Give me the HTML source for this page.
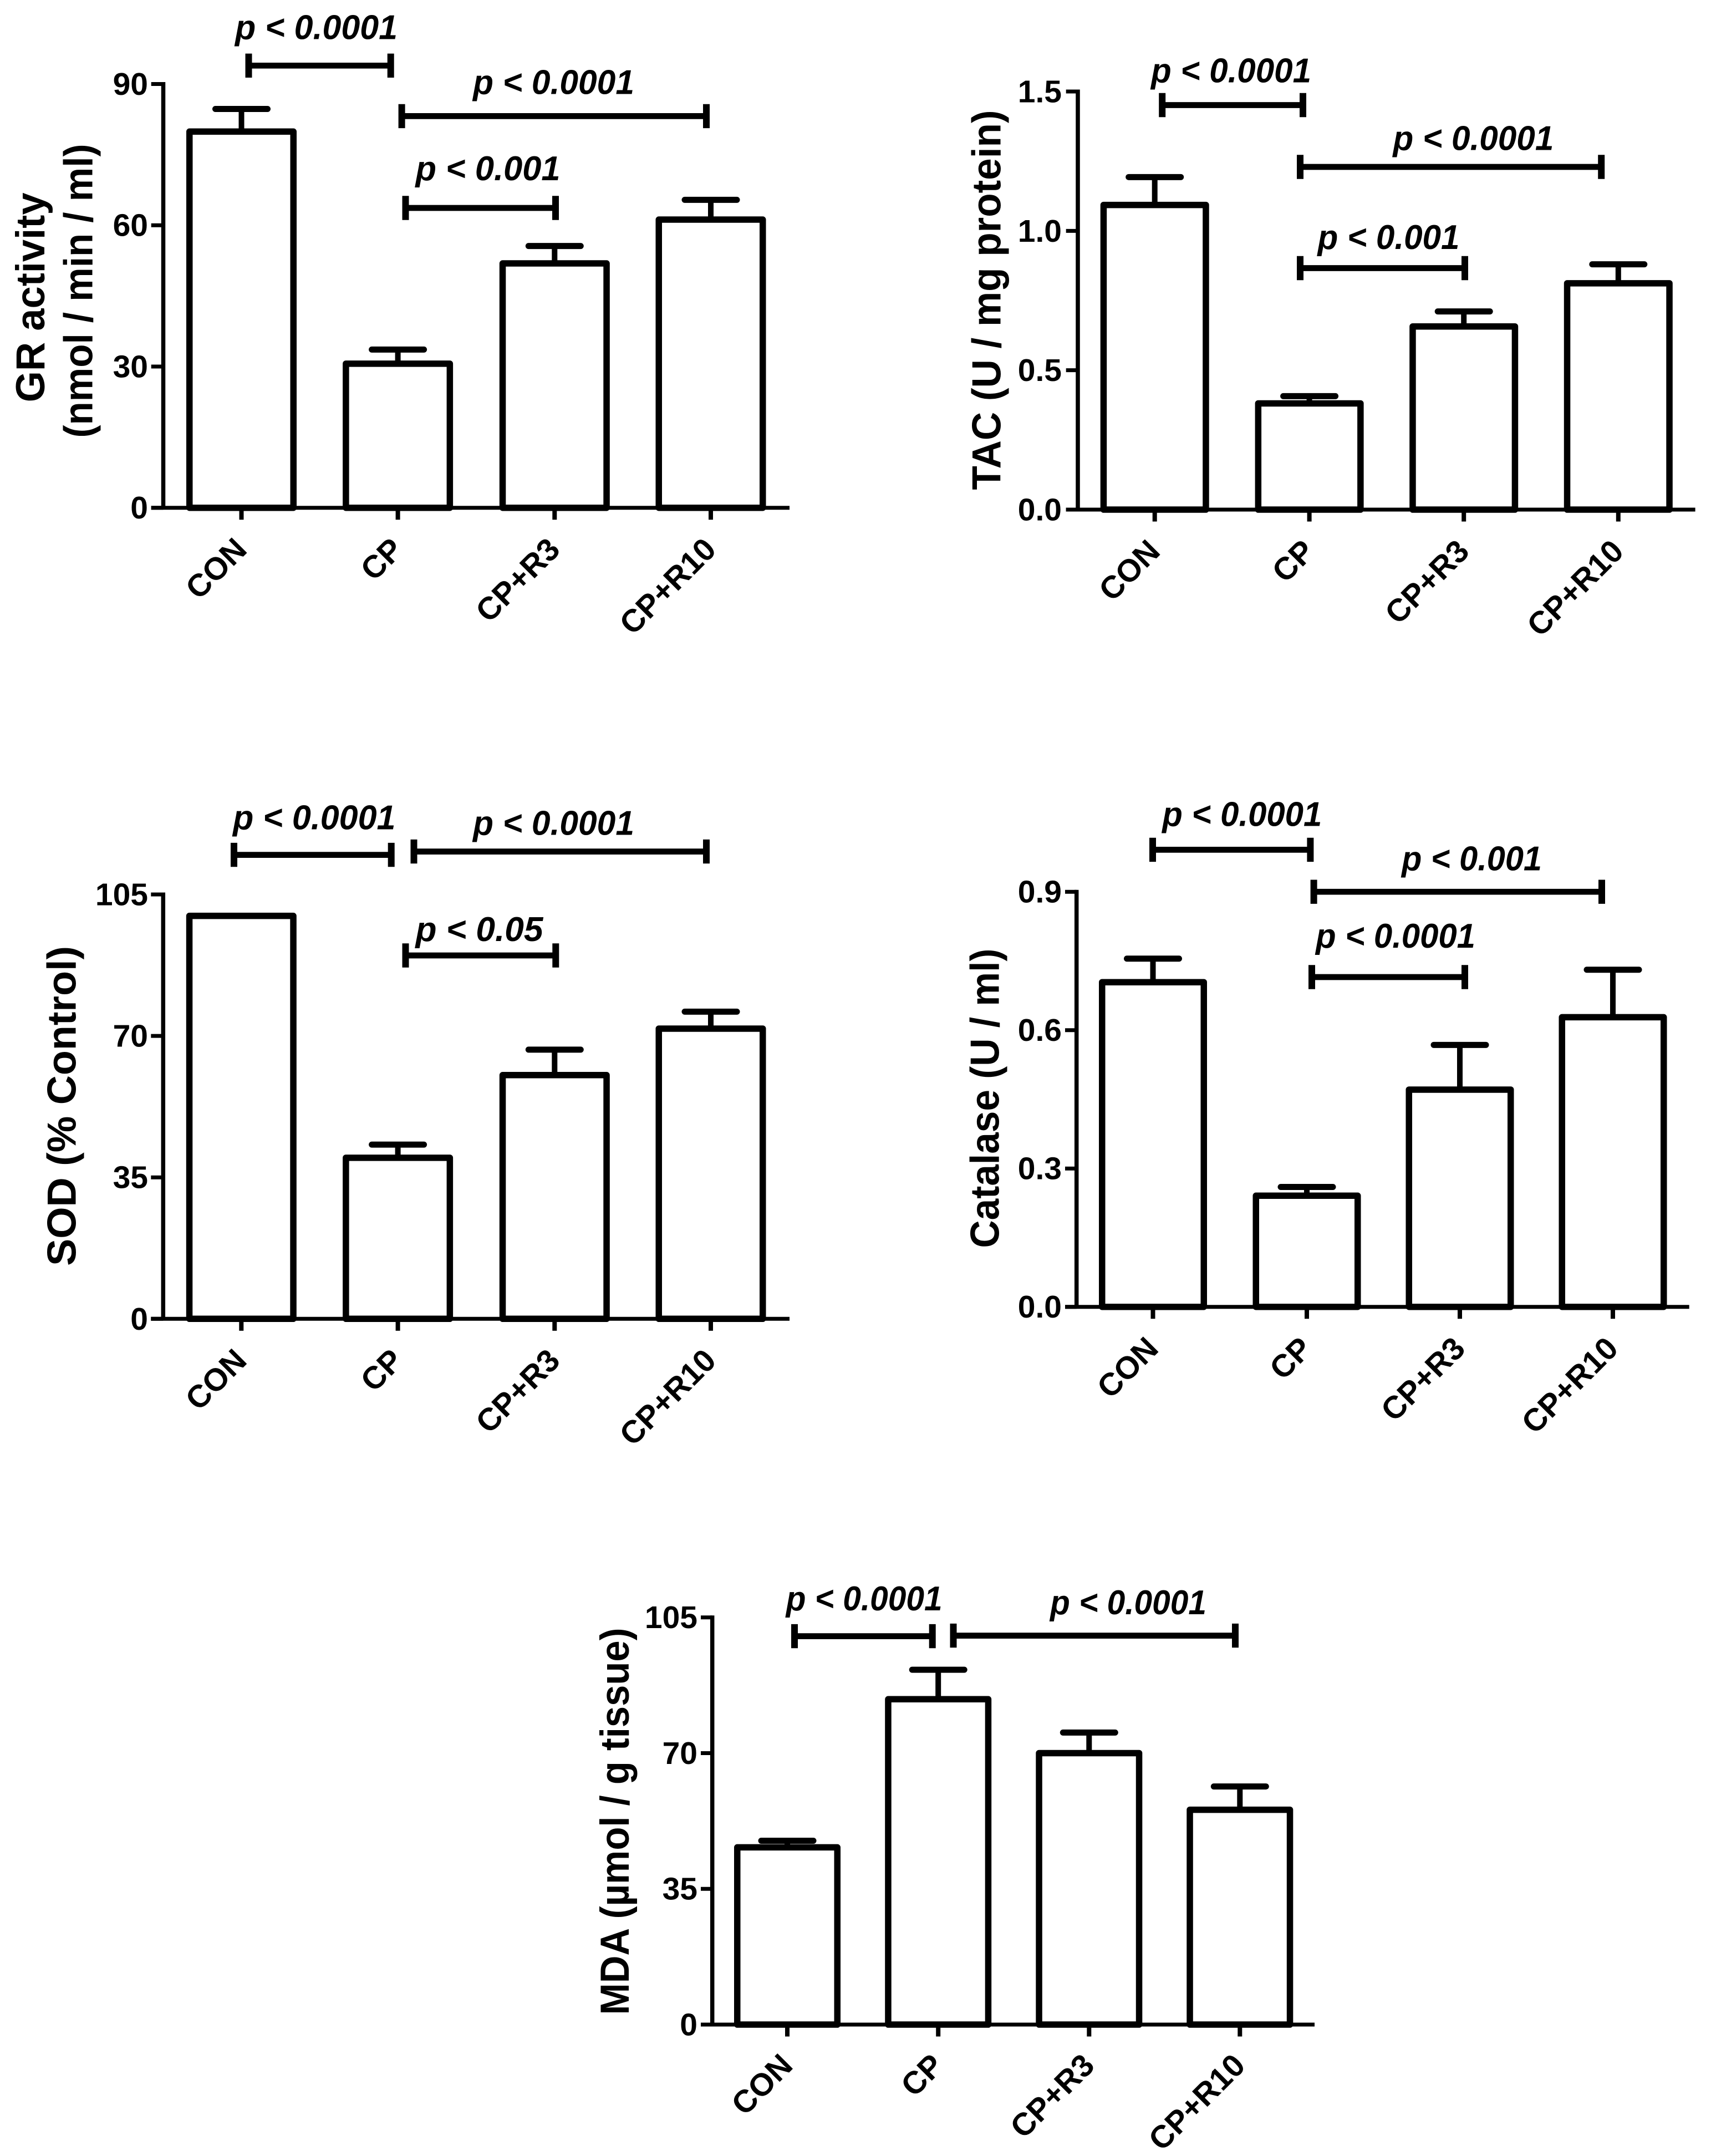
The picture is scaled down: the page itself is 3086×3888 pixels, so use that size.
<!DOCTYPE html>
<html lang="en">
<head>
<meta charset="utf-8">
<title>Antioxidant markers bar charts</title>
<style>
html,body{margin:0;padding:0;background:#fff;}
#figure{display:block;width:3086px;height:3888px;background:#fff;}
text{font-family:"Liberation Sans",Arial,sans-serif;font-weight:700;fill:#000;}
</style>
</head>
<body>
<svg id="figure" xmlns="http://www.w3.org/2000/svg" width="3086" height="3888" viewBox="0 0 3086 3888"></svg>
<script>
// ---- chart data ----
const categories = ['CON', 'CP', 'CP+R3', 'CP+R10'];

const grValues = [79.9, 30.6, 51.9, 61.2];
const grErrorTops = [84.7, 33.6, 55.6, 65.4];
const grTicks = [0, 30, 60, 90];
const grTickLabels = ['0', '30', '60', '90'];

const tacValues = [1.093, 0.381, 0.657, 0.812];
const tacErrorTops = [1.193, 0.407, 0.711, 0.88];
const tacTicks = [0, 0.5, 1, 1.5];
const tacTickLabels = ['0.0', '0.5', '1.0', '1.5'];

const sodValues = [99.7, 39.85, 60.3, 71.8];
const sodErrorTops = [99.7, 43.1, 66.6, 76];
const sodTicks = [0, 35, 70, 105];
const sodTickLabels = ['0', '35', '70', '105'];

const catValues = [0.704, 0.241, 0.471, 0.628];
const catErrorTops = [0.755, 0.26, 0.568, 0.731];
const catTicks = [0, 0.3, 0.6, 0.9];
const catTickLabels = ['0.0', '0.3', '0.6', '0.9'];

const mdaValues = [45.7, 83.9, 70, 55.4];
const mdaErrorTops = [47.4, 91.5, 75.3, 61.4];
const mdaTicks = [0, 35, 70, 105];
const mdaTickLabels = ['0', '35', '70', '105'];

// ---- panel layout ----
const panels = [
  { id:'gr', values:grValues, errs:grErrorTops, ticks:grTicks, tickLabels:grTickLabels, yMax:90,
    axisX:294.5, top:151.5, base:915.7, left:272.7, right:1424, tickX:[435.5,717.6,1000.3,1282], barW:199, labelRight:267, xLabelDy:78.5,
    titles:[{t:'GR activity',x:80,cy:536.4,len:378},{t:'(nmol / min / ml)',x:166.7,cy:524.5,len:530}],
    brackets:[
      {x1:448.5,x2:704.7,y:118.3,label:'p < 0.0001',lx:424,lw:293,ly:70.5},
      {x1:724.6,x2:1274,y:209.4,label:'p < 0.0001',lx:853,lw:291,ly:169.5},
      {x1:731.5,x2:1002,y:375,label:'p < 0.001',lx:749.5,lw:261,ly:325}]},
  { id:'tac', values:tacValues, errs:tacErrorTops, ticks:tacTicks, tickLabels:tacTickLabels, yMax:1.5,
    axisX:1944, top:165, base:919, left:1922.7, right:3057.6, tickX:[2082.7,2361.6,2640.2,2918.8], barW:196, labelRight:1915, xLabelDy:78.5,
    titles:[{t:'TAC (U / mg protein)',x:1804.7,cy:541,len:685}],
    brackets:[
      {x1:2096.2,x2:2350,y:189.5,label:'p < 0.0001',lx:2076,lw:289,ly:148.7},
      {x1:2345,x2:2888.2,y:301,label:'p < 0.0001',lx:2512.4,lw:290,ly:270.5},
      {x1:2345,x2:2642,y:483.5,label:'p < 0.001',lx:2376.5,lw:256,ly:449}]},
  { id:'sod', values:sodValues, errs:sodErrorTops, ticks:sodTicks, tickLabels:sodTickLabels, yMax:105,
    axisX:294.3, top:1613, base:2378.3, left:272.3, right:1424, tickX:[435.3,717.6,1000.3,1282], barW:199, labelRight:267, xLabelDy:78.5,
    titles:[{t:'SOD (% Control)',x:136.5,cy:1994.4,len:577}],
    brackets:[
      {x1:422,x2:705.7,y:1541.6,label:'p < 0.0001',lx:420,lw:293.5,ly:1495.7},
      {x1:746.5,x2:1274,y:1535.6,label:'p < 0.0001',lx:853,lw:291,ly:1505.3},
      {x1:731.5,x2:1002.3,y:1723,label:'p < 0.05',lx:749.5,lw:230,ly:1697}]},
  { id:'catalase', values:catValues, errs:catErrorTops, ticks:catTicks, tickLabels:catTickLabels, yMax:0.9,
    axisX:1941.7, top:1608.2, base:2356.7, left:1921, right:3046.7, tickX:[2079.5,2357,2633,2909], barW:195, labelRight:1915, xLabelDy:78.5,
    titles:[{t:'Catalase (U / ml)',x:1801.7,cy:1980.5,len:540}],
    brackets:[
      {x1:2079,x2:2363.4,y:1532.4,label:'p < 0.0001',lx:2096.3,lw:288,ly:1489.4},
      {x1:2369.6,x2:2889,y:1608.2,label:'p < 0.001',lx:2528,lw:253,ly:1569.5},
      {x1:2366,x2:2642,y:1762,label:'p < 0.0001',lx:2373,lw:288,ly:1709}]},
  { id:'mda', values:mdaValues, errs:mdaErrorTops, ticks:mdaTicks, tickLabels:mdaTickLabels, yMax:105,
    axisX:1284.7, top:2916.7, base:3651, left:1264, right:2371, tickX:[1420,1692.2,1964.3,2236.3], barW:192, labelRight:1258, xLabelDy:77,
    titles:[{t:'MDA (\u00B5mol / g tissue)',x:1134.1,cy:3284.5,len:698}],
    brackets:[
      {x1:1433,x2:1681.7,y:2950.6,label:'p < 0.0001',lx:1417.6,lw:282,ly:2904.2},
      {x1:1719.5,x2:2228,y:2949.6,label:'p < 0.0001',lx:1894,lw:282,ly:2911}]}
];

const SVG_NS = 'http://www.w3.org/2000/svg';
const figure = document.getElementById('figure');

function mk(tag, attrs, parent) {
  const el = document.createElementNS(SVG_NS, tag);
  for (const k in attrs) el.setAttribute(k, attrs[k]);
  parent.appendChild(el);
  return el;
}

function drawPanel(p) {
  const yScale = v => p.base - (v / p.yMax) * (p.base - p.top);
  const xScale = i => p.tickX[i];

  const g = mk('g', {}, figure);
  
  

  // bars and error bars
  p.values.forEach((v, i) => {
    const sw = 11.5;
    const cx = xScale(i);
    const yTop = yScale(v);
    const yErr = yScale(p.errs[i]);
    if (p.errs[i] > v) {
      const stem = mk('line', {x1:cx, x2:cx, y1:yTop, y2:yErr, stroke:'#000', 'stroke-width':10}, g);
      
      
      const cap = mk('line', {x1:cx-47, x2:cx+47, y1:yErr, y2:yErr, stroke:'#000', 'stroke-width':11, 'stroke-linecap':'round'}, g);
      
      
    }
    const bar = mk('rect', {x:cx-p.barW/2+sw/2, y:yTop, width:p.barW-sw, height:p.base-yTop, fill:'#fff', stroke:'#000', 'stroke-width':sw, 'stroke-linejoin':'round'}, g);
    
    
  });

  // axes
  const yAxis = mk('line', {x1:p.axisX, x2:p.axisX, y1:p.top-3.5, y2:p.base, stroke:'#000', 'stroke-width':7.5}, g);
  
  
  const xAxis = mk('line', {x1:p.left, x2:p.right, y1:p.base, y2:p.base, stroke:'#000', 'stroke-width':7}, g);
  
  

  // y ticks
  p.ticks.forEach((t, i) => {
    const y = yScale(t);
    const tick = mk('line', {x1:p.left, x2:p.axisX, y1:y, y2:y, stroke:'#000', 'stroke-width':7}, g);
    
    
    const lab = mk('text', {x:p.labelRight, y:y+19.5, 'text-anchor':'end', 'font-size':57}, g);
    lab.textContent = p.tickLabels[i];
    
    
  });

  // x ticks and rotated labels
  categories.forEach((c, i) => {
    const x = xScale(i);
    const tick = mk('line', {x1:x, x2:x, y1:p.base, y2:p.base+21.5, stroke:'#000', 'stroke-width':8}, g);
    
    
    const ex = x + 12.7;
    const ey = p.base + p.xLabelDy;
    const lab = mk('text', {x:ex, y:ey, 'text-anchor':'end', 'font-size':57, transform:'rotate(-45 ' + ex + ' ' + ey + ')'}, g);
    lab.textContent = c;
    
    
  });

  // axis titles
  p.titles.forEach(t => {
    const title = mk('text', {x:t.x, y:t.cy, 'text-anchor':'middle', 'font-size':73, textLength:t.len, lengthAdjust:'spacingAndGlyphs', transform:'rotate(-90 ' + t.x + ' ' + t.cy + ')'}, g);
    title.textContent = t.t;
    
    
  });

  // significance brackets
  p.brackets.forEach(b => {
    const h = mk('line', {x1:b.x1, x2:b.x2, y1:b.y, y2:b.y, stroke:'#000', 'stroke-width':10.7}, g);
    
    
    [b.x1, b.x2].forEach(x => {
      const capLine = mk('line', {x1:x, x2:x, y1:b.y-21.7, y2:b.y+21.7, stroke:'#000', 'stroke-width':12}, g);
      
      
    });
    const txt = mk('text', {x:b.lx, y:b.ly, 'font-size':62, 'font-style':'italic', textLength:b.lw, lengthAdjust:'spacingAndGlyphs'}, g);
    txt.textContent = b.label;
    
    
  });
}

panels.forEach(drawPanel);
</script>
</body>
</html>
